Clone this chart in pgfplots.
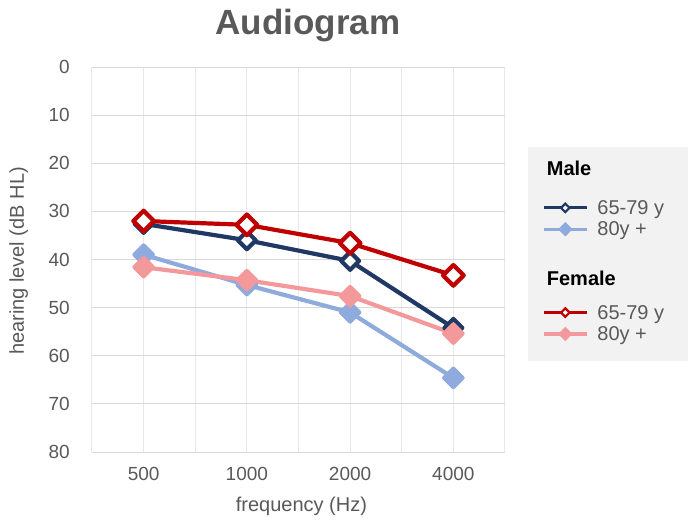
\documentclass[border=0pt]{standalone}
\usepackage{fontspec}
\setmainfont{Liberation Sans}
\usepackage{pgfplots}
\pgfplotsset{compat=1.18}
\definecolor{navy}{HTML}{1F3864}
\definecolor{lblue}{HTML}{8FAADC}
\definecolor{dred}{HTML}{C00000}
\definecolor{lpink}{HTML}{F4999B}
\definecolor{txt}{HTML}{595959}
\definecolor{legbg}{HTML}{F2F2F2}
\definecolor{gridh}{HTML}{D9D9D9}
\definecolor{gridv}{HTML}{E8E8E8}
\newcommand{\entry}[1]{\makebox[77pt][l]{\rule[-2.8pt]{0pt}{20pt}#1}}
\begin{document}
\begin{tikzpicture}
\useasboundingbox (0pt,-530pt) rectangle (688pt,0pt);
\begin{axis}[
  at={(92pt,-452pt)}, anchor=south west,
  scale only axis, width=413pt, height=385pt,
  xmin=-0.5, xmax=3.5, ymin=0, ymax=80, y dir=reverse,
  xtick={-0.5,0,0.5,1,1.5,2,2.5,3,3.5},
  xticklabels={,500,,1000,,2000,,4000,},
  ytick={0,10,...,80},
  xmajorgrids, ymajorgrids,
  x grid style={draw=gridv, line width=1pt},
  y grid style={draw=gridh, line width=1pt},
  axis line style={draw=none},
  major tick length=0pt,
  /pgf/number format/assume math mode=true,
  tick label style={font=\fontsize{19}{22}\selectfont, text=txt, inner sep=0pt},
  yticklabel style={xshift=-22pt},
  xticklabel style={yshift=-15pt},
  title={Audiogram},
  title style={at={(axis description cs:0.523,1.092)}, anchor=center, inner sep=0pt,
    font=\fontsize{35}{40}\selectfont\bfseries, text=txt},
  xlabel={frequency (Hz)},
  xlabel style={at={(axis description cs:0.507,-0.140)}, anchor=center, inner sep=0pt,
    font=\fontsize{20}{24}\selectfont, text=txt},
  ylabel={hearing level (dB HL)},
  ylabel style={at={(axis description cs:-0.1777,0.496)}, anchor=center, inner sep=0pt,
    font=\fontsize{20}{24}\selectfont, text=txt},
  legend cell align=left,
  legend image code/.code={\draw[mark repeat=2,mark phase=2] plot coordinates {(0pt,0pt) (21.5pt,0pt) (43pt,0pt)}; \path (52pt,0pt);},
  legend style={at={(axis description cs:1.0557,0.7922)}, anchor=north west,
    fill=legbg, draw=none, inner xsep=14pt, inner ysep=16pt,
    row sep=0pt, column sep=0pt,
    nodes={inner sep=0pt, text depth=, text height=, anchor=west},
    font=\fontsize{20}{24}\selectfont, text=txt},
]
\addplot[lblue, line width=4.2pt, line join=round, mark=square*, mark size=6.5pt,
  mark options={rotate=45, solid, fill=lblue}, forget plot]
  coordinates {(0,39) (1,45.3) (2,51) (3,64.6)};
\addplot[navy, line width=4.2pt, line join=round, mark=square*, mark size=6.3pt,
  mark options={rotate=45, solid, fill=white}, forget plot]
  coordinates {(0,32.6) (1,36) (2,40.3) (3,54.2)};
\addplot[lpink, line width=4.2pt, line join=round, mark=square*, mark size=6.5pt,
  mark options={rotate=45, solid, fill=lpink}, forget plot]
  coordinates {(0,41.6) (1,44.3) (2,47.6) (3,55.4)};
\addplot[dred, line width=4.2pt, line join=round, mark=square*, mark size=7.3pt,
  mark options={rotate=45, solid, fill=white}, forget plot]
  coordinates {(0,32) (1,32.8) (2,36.6) (3,43.3)};
\addlegendimage{empty legend}
\addlegendentry{\makebox[0pt][l]{\hspace*{-51pt}\rule[-21.8pt]{0pt}{34pt}\smash{\textcolor{black}{\bfseries Male}}}}
\addlegendimage{navy, line width=3.2pt, mark=square*, mark size=3pt, mark options={rotate=45, fill=white, line width=2.2pt}}
\addlegendentry{\entry{65-79 y}}
\addlegendimage{lblue, line width=3.2pt, mark=square*, mark size=3.5pt, mark options={rotate=45, fill=lblue}}
\addlegendentry{\entry{80y +}}
\addlegendimage{empty legend}
\addlegendentry{\makebox[0pt][l]{\hspace*{-51pt}\rule[-16.8pt]{0pt}{62pt}\smash{\textcolor{black}{\bfseries Female}}}}
\addlegendimage{dred, line width=3.2pt, mark=square*, mark size=3pt, mark options={rotate=45, fill=white, line width=2.2pt}}
\addlegendentry{\entry{65-79 y}}
\addlegendimage{lpink, line width=3.2pt, mark=square*, mark size=3.5pt, mark options={rotate=45, fill=lpink}}
\addlegendentry{\entry{80y +}}
\end{axis}
\end{tikzpicture}
\end{document}
